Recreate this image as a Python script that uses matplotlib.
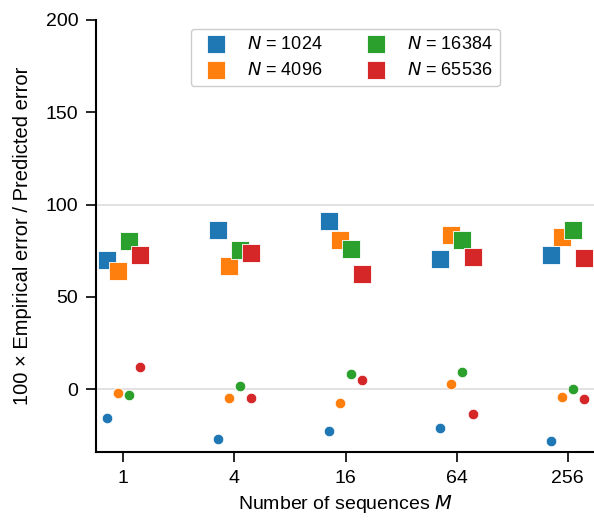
import numpy as np
import matplotlib
matplotlib.use("Agg")
import matplotlib.pyplot as plt

plt.rcParams['font.family'] = ['Liberation Sans', 'DejaVu Sans']

M_labels = ["1", "4", "16", "64", "256"]
N_labels = [r"$N$ = 1024", r"$N$ = 4096", r"$N$ = 16384", r"$N$ = 65536"]
colors = ["#1f77b4", "#ff7f0e", "#2ca02c", "#d62728"]

# squares: one list per N, over M = 1, 4, 16, 64, 256
sq_1024 = [70.0, 86.3, 91.2, 70.3, 72.6]
sq_4096 = [64.1, 66.8, 80.6, 83.3, 82.2]
sq_16384 = [80.4, 75.3, 76.2, 80.8, 86.0]
sq_65536 = [72.5, 73.9, 62.5, 71.4, 71.0]

# dots
dot_1024 = [-15.7, -26.6, -22.6, -21.1, -28.0]
dot_4096 = [-1.8, -4.9, -7.2, 2.7, -4.2]
dot_16384 = [-3.3, 2.0, 8.3, 9.4, 0.0]
dot_65536 = [12.3, -4.5, 5.1, -13.2, -5.4]

squares = [sq_1024, sq_4096, sq_16384, sq_65536]
dots = [dot_1024, dot_4096, dot_16384, dot_65536]
offsets = [-0.15, -0.05, 0.05, 0.15]

fig = plt.figure(figsize=(5.94, 5.21), dpi=100)
ax = fig.add_axes([0.162, 0.132, 0.838, 0.830])

x = np.arange(len(M_labels))
ax.axhline(0, color="#dddddd", lw=1.2, zorder=0)
ax.axhline(100, color="#dddddd", lw=1.2, zorder=0)

for i in range(4):
    ax.scatter(x + offsets[i], squares[i], marker="s", s=155, color=colors[i],
               edgecolor="white", linewidth=0.6, label=N_labels[i], zorder=3)
    ax.scatter(x + offsets[i], dots[i], marker="o", s=58, color=colors[i],
               edgecolor="white", linewidth=0.6, zorder=3)

ax.set_xticks(x)
ax.set_xticklabels(M_labels)
ax.set_xlim(-0.243, 4.236)
ax.set_ylim(-34, 200)
ax.set_yticks([0, 50, 100, 150, 200])
ax.tick_params(labelsize=14, length=7, width=1.2, pad=6)
ax.spines["top"].set_visible(False)
ax.spines["right"].set_visible(False)
ax.spines["left"].set_linewidth(1.5)
ax.spines["bottom"].set_linewidth(1.5)

ax.set_xlabel(r"Number of sequences $M$", fontsize=14, labelpad=4)
ax.set_ylabel("100 × Empirical error / Predicted error", fontsize=14.5, labelpad=10)

ax.legend(loc="upper center", ncol=2, fontsize=13, bbox_to_anchor=(0.5, 1.0),
          columnspacing=2.0, handletextpad=0.7, markerscale=1.0, framealpha=1,
          edgecolor="#cccccc")

fig.savefig("out.png", dpi=100)
